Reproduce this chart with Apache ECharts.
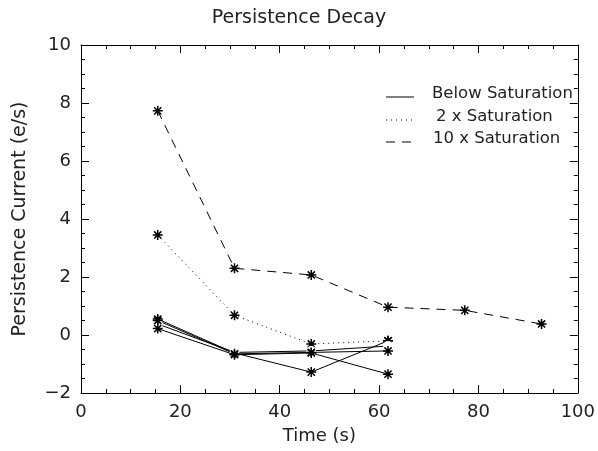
<!DOCTYPE html>
<html><head><meta charset="utf-8">
<script src="https://cdn.jsdelivr.net/npm/echarts@6/dist/echarts.min.js"></script>
<style>html,body{margin:0;padding:0;background:#fff}#c{width:598px;height:451px}</style>
</head><body><div id="c"></div>
<script>
var times = [15.45, 30.9, 46.35, 61.8, 77.25, 92.7];
var tenX = [7.73, 2.3, 2.07, 0.96, 0.85, 0.38];
var twoX = [3.45, 0.68, -0.31, -0.2];
var belowA = [0.55, -0.62, -1.28, -0.2];
var belowB = [0.38, -0.6, -0.55, -0.38];
var belowC = [0.22, -0.68, -0.62, -1.35];
var belowD = [0.5, -0.65, -0.6, -0.55];
var xTicks = [0, 20, 40, 60, 80, 100];
var yTicks = [-2, 0, 2, 4, 6, 8, 10];

var star = 'path://M0,-5L0,5M-5,0L5,0M-3.6,-3.6L3.6,3.6M-3.6,3.6L3.6,-3.6';
function pts(v){ return v.map(function(y,i){ return [times[i], y]; }); }
function ser(v, sym, dash){
  return { type:'line', data: pts(v), symbol: sym, symbolSize: sym==='emptyCircle'?8:10,
    lineStyle:{color:'#000', width:1, type: dash},
    itemStyle:{color: sym==='emptyCircle'?'#fff':'none', borderColor:'#000', borderWidth:1.5},
    animation:false, z: 3 };
}
var font = 'DejaVu Sans';
var axisCommon = function(pos, isX){
  return {
    type:'value', position: pos, min: isX?0:-2, max: isX?100:10, interval: isX?20:2,
    axisLine:{show:true, onZero:false, lineStyle:{color:'#000', width:1}},
    axisTick:{show:true, inside:true, length:8, lineStyle:{color:'#000'}},
    minorTick:{show:true, splitNumber:4, length:4, lineStyle:{color:'#000'}},
    splitLine:{show:false},
    axisLabel:{show: pos==='bottom'||pos==='left', color:'#222', fontFamily:font, fontSize:18, margin: 10,
      formatter: function(v){ var arr = isX?xTicks:yTicks; return arr.indexOf(v)>=0 ? (v<0?'\u2212'+(-v):String(v)) : ''; }}
  };
};
var chart = echarts.init(document.getElementById('c'), null, {renderer:'canvas'});
var xb = axisCommon('bottom', true); xb.name='Time (s)'; xb.nameLocation='middle'; xb.nameGap=34;
xb.nameTextStyle={fontFamily:font, fontSize:18, color:'#222', padding:[0,20,0,0]};
var yl = axisCommon('left', false); yl.name='Persistence Current (e/s)'; yl.nameLocation='middle'; yl.nameGap=51;
yl.nameTextStyle={fontFamily:font, fontSize:19, color:'#222'};
var xt = axisCommon('top', true); var yr = axisCommon('right', false);
var lx = 386, lw = 28;
chart.setOption({
  animation:false,
  title:{text:'Persistence Decay', left:'center', top:4, textStyle:{fontFamily:font, fontSize:19, fontWeight:'normal', color:'#222'}},
  grid:{left:81, right:20, top:45, bottom:58},
  xAxis:[xb, xt],
  yAxis:[yl, yr],
  series:[
    ser(tenX,star,[9,7]),
    ser(twoX,star,[1,4]),
    ser(belowA,star,'solid'),
    ser(belowB,'emptyCircle','solid'),
    ser(belowC,star,'solid'),
    ser(belowD,star,'solid')
  ],
  graphic:[
    {type:'line', shape:{x1:lx,y1:97,x2:lx+lw,y2:97}, style:{stroke:'#000', lineWidth:1}},
    {type:'line', shape:{x1:lx,y1:120,x2:lx+lw,y2:120}, style:{stroke:'#000', lineWidth:1, lineDash:[1,4]}},
    {type:'line', shape:{x1:lx,y1:142,x2:lx+lw,y2:142}, style:{stroke:'#000', lineWidth:1, lineDash:[9,7]}},
    {type:'text', left:432, top:85, style:{text:'Below Saturation', font:'16.5px "DejaVu Sans"', fill:'#222'}},
    {type:'text', left:436, top:108, style:{text:'2 x Saturation', font:'16.5px "DejaVu Sans"', fill:'#222'}},
    {type:'text', left:433, top:130, style:{text:'10 x Saturation', font:'16.5px "DejaVu Sans"', fill:'#222'}}
  ]
});
</script></body></html>
